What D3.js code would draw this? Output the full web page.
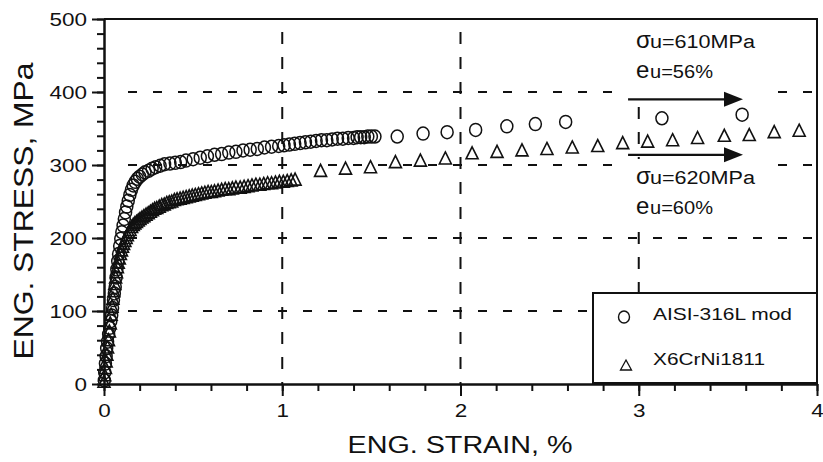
<!DOCTYPE html>
<html>
<head>
<meta charset="utf-8">
<script src="https://cdn.jsdelivr.net/npm/d3@7"></script>
<style>
  body { margin: 0; background: #fff; }
  svg { display: block; font-family: "Liberation Sans", Arial, Helvetica, sans-serif; }
</style>
</head>
<body>
<div id="chart"></div>
<script>
// AISI-316L mod (circles): [strain %, stress MPa]
const aisiPoints = [
  [0.002, 5], [0.004, 16], [0.008, 28], [0.012, 38], [0.015, 49], [0.020, 58], [0.026, 68],
  [0.032, 77], [0.038, 86], [0.043, 94], [0.048, 104], [0.053, 115], [0.058, 124], [0.063, 133],
  [0.068, 146], [0.072, 157], [0.077, 168], [0.082, 178], [0.088, 189], [0.094, 199], [0.100, 208],
  [0.107, 217], [0.114, 226], [0.121, 235], [0.128, 243], [0.136, 251], [0.145, 259], [0.154, 266],
  [0.164, 272], [0.175, 277], [0.187, 281], [0.200, 284], [0.215, 287], [0.230, 290], [0.250, 292],
  [0.270, 295], [0.290, 297], [0.315, 299], [0.340, 301], [0.370, 302], [0.400, 303], [0.430, 304],
  [0.460, 306], [0.500, 308], [0.540, 310], [0.580, 312], [0.620, 314], [0.660, 315], [0.700, 317],
  [0.740, 318], [0.780, 320], [0.820, 321], [0.860, 322], [0.900, 324], [0.940, 325], [0.980, 326],
  [1.010, 327], [1.040, 328], [1.070, 329], [1.100, 330], [1.130, 331], [1.160, 332], [1.190, 333],
  [1.220, 334], [1.250, 334], [1.280, 335], [1.310, 336], [1.340, 336], [1.370, 337], [1.400, 337],
  [1.420, 338], [1.440, 338], [1.460, 338], [1.480, 339], [1.500, 339], [1.520, 339],
  [1.645, 339], [1.790, 343], [1.925, 345], [2.085, 348], [2.260, 353], [2.420, 356], [2.590, 359],
  [3.130, 364], [3.580, 369]
];

// X6CrNi1811 (triangles): [strain %, stress MPa]
const x6Points = [
  [0.000, 3], [0.004, 12], [0.008, 22], [0.012, 31], [0.016, 40], [0.020, 50], [0.025, 60],
  [0.030, 72], [0.035, 83], [0.040, 95], [0.045, 106], [0.050, 117], [0.055, 127], [0.060, 137],
  [0.065, 146], [0.070, 153], [0.075, 160], [0.080, 166], [0.086, 172], [0.092, 178], [0.098, 183],
  [0.104, 188], [0.110, 192], [0.117, 196], [0.124, 200], [0.131, 204], [0.138, 208], [0.146, 211],
  [0.155, 215], [0.164, 218], [0.173, 220], [0.182, 222], [0.192, 224], [0.202, 226], [0.213, 228],
  [0.224, 230], [0.236, 232], [0.248, 234], [0.260, 236], [0.272, 238], [0.284, 240], [0.296, 241],
  [0.310, 243], [0.324, 245], [0.338, 246], [0.352, 248], [0.366, 249], [0.380, 250], [0.395, 252],
  [0.410, 253], [0.427, 254], [0.444, 255], [0.461, 256], [0.478, 257], [0.495, 258], [0.512, 259],
  [0.530, 260], [0.548, 261], [0.566, 262], [0.584, 263], [0.602, 263], [0.620, 264], [0.640, 265],
  [0.660, 266], [0.680, 267], [0.700, 267], [0.720, 268], [0.740, 269], [0.764, 269], [0.786, 270],
  [0.808, 271], [0.830, 272], [0.852, 273], [0.874, 273], [0.896, 274], [0.918, 275], [0.940, 275],
  [0.962, 276], [0.984, 277], [1.006, 277], [1.028, 278], [1.050, 279], [1.072, 280],
  [1.215, 292], [1.355, 295], [1.495, 297], [1.635, 304], [1.775, 306], [1.915, 309], [2.065, 316],
  [2.205, 318], [2.345, 320], [2.485, 322], [2.627, 324], [2.770, 326], [2.910, 330], [3.050, 332],
  [3.190, 334], [3.330, 337], [3.480, 340], [3.620, 341], [3.760, 345], [3.900, 347]
];

const xTicks = [0, 1, 2, 3, 4];
const yTicks = [0, 100, 200, 300, 400, 500];
const xGrid = [1, 2, 3];
const yGrid = [100, 200, 300, 400];
const seriesNames = ["AISI-316L mod", "X6CrNi1811"];

// arrows: [strain from, strain to, stress]
const arrows = [[2.94, 3.585, 390], [2.94, 3.585, 314]];
const notes = [
  { sym: "σ", rest: "u=610MPa", restLen: 105, stress: 460 },
  { sym: "e", rest: "u=56%", restLen: 63, stress: 419 },
  { sym: "σ", rest: "u=620MPa", restLen: 105, stress: 274 },
  { sym: "e", rest: "u=60%", restLen: 63, stress: 233 }
];

const W = 823, H = 462;
const ink = "#111";

const svg = d3.select("#chart").append("svg")
  .attr("width", W).attr("height", H)
  .attr("viewBox", `0 0 ${W} ${H}`);

const x = d3.scaleLinear().domain([0, 4]).range([104, 817]);
const y = d3.scaleLinear().domain([0, 500]).range([384, 19]);

// grid
svg.append("g").selectAll("line")
  .data(yGrid).enter().append("line")
  .attr("x1", x(0) + 20).attr("x2", x(4))
  .attr("y1", d => y(d)).attr("y2", d => y(d))
  .attr("stroke", ink).attr("stroke-width", 2)
  .attr("stroke-dasharray", "9,16").attr("stroke-dashoffset", 21);

svg.append("g").selectAll("line")
  .data(xGrid).enter().append("line")
  .attr("x1", d => x(d)).attr("x2", d => x(d))
  .attr("y1", y(500)).attr("y2", y(0))
  .attr("stroke", ink).attr("stroke-width", 2)
  .attr("stroke-dasharray", "12,13").attr("stroke-dashoffset", 12);

// white patches behind the annotation text
svg.append("rect").attr("x", 613).attr("y", 22).attr("width", 164).attr("height", 73).attr("fill", "#fff");
svg.append("rect").attr("x", 613).attr("y", 159).attr("width", 164).attr("height", 73).attr("fill", "#fff");

// data markers
const tri = "M0,-6.5L6,5.5L-6,5.5Z";

svg.append("g").selectAll("path")
  .data(x6Points).enter().append("path")
  .attr("d", tri)
  .attr("transform", d => `translate(${x(d[0])},${y(d[1])})`)
  .attr("fill", "none").attr("stroke", ink).attr("stroke-width", 1.6);

svg.append("g").selectAll("ellipse")
  .data(aisiPoints).enter().append("ellipse")
  .attr("cx", d => x(d[0])).attr("cy", d => y(d[1]))
  .attr("rx", 6).attr("ry", 6.5)
  .attr("fill", "none").attr("stroke", ink).attr("stroke-width", 1.5);

// arrows
arrows.forEach(a => {
  const g = svg.append("g");
  g.append("line")
    .attr("x1", x(a[0])).attr("x2", x(a[1]) - 14)
    .attr("y1", y(a[2])).attr("y2", y(a[2]))
    .attr("stroke", ink).attr("stroke-width", 2.2);
  g.append("path")
    .attr("d", `M${x(a[1])},${y(a[2])}L${x(a[1]) - 19},${y(a[2]) - 7.5}L${x(a[1]) - 19},${y(a[2]) + 7.5}Z`)
    .attr("fill", ink);
});

// annotation text
notes.forEach(n => {
  const t = svg.append("text").attr("y", y(n.stress)).attr("fill", ink);
  t.append("tspan").attr("x", 636).attr("font-size", 24).text(n.sym);
  t.append("tspan").attr("x", 650).attr("font-size", 18)
    .attr("textLength", n.restLen).attr("lengthAdjust", "spacingAndGlyphs").text(n.rest);
});

// legend
const lg = svg.append("g");
lg.append("rect").attr("x", 593).attr("y", 293).attr("width", 224).attr("height", 90)
  .attr("fill", "#fff").attr("stroke", ink).attr("stroke-width", 2);
lg.append("ellipse").attr("cx", 624).attr("cy", 317).attr("rx", 5.5).attr("ry", 6)
  .attr("fill", "none").attr("stroke", ink).attr("stroke-width", 1.4);
lg.append("path").attr("d", "M626,360L631.5,370L620.5,370Z")
  .attr("fill", "none").attr("stroke", ink).attr("stroke-width", 1.3);
lg.append("text").attr("x", 653).attr("y", 320).attr("font-size", 17).attr("fill", ink)
  .attr("textLength", 139).attr("lengthAdjust", "spacingAndGlyphs").text(seriesNames[0]);
lg.append("text").attr("x", 653).attr("y", 365).attr("font-size", 17).attr("fill", ink)
  .attr("textLength", 112).attr("lengthAdjust", "spacingAndGlyphs").text(seriesNames[1]);

// frame top and right
svg.append("path")
  .attr("d", `M${x(0)},${y(500)}H${x(4)}V${y(0)}`)
  .attr("fill", "none").attr("stroke", ink).attr("stroke-width", 2);

// axes
function styleAxis(g) {
  g.select(".domain").attr("stroke", ink).attr("stroke-width", 2);
  g.selectAll(".tick line").attr("stroke", ink).attr("stroke-width", 2);
  g.selectAll(".tick text").attr("fill", ink).style("font-size", "19px")
    .attr("textLength", d => String(d).length * 12.5).attr("lengthAdjust", "spacingAndGlyphs");
}

svg.append("g")
  .attr("transform", `translate(0,${y(0)})`)
  .call(d3.axisBottom(x).tickValues(d3.range(0, 4.01, 0.2)).tickSize(7).tickSizeOuter(0).tickFormat(""))
  .call(styleAxis);
svg.append("g")
  .attr("transform", `translate(0,${y(0)})`)
  .call(d3.axisBottom(x).tickValues(xTicks).tickSize(12).tickSizeOuter(0).tickPadding(8).tickFormat(d3.format("d")))
  .call(styleAxis);

svg.append("g")
  .attr("transform", `translate(${x(0)},0)`)
  .call(d3.axisLeft(y).tickValues(d3.range(0, 501, 20)).tickSize(7).tickSizeOuter(0).tickFormat(""))
  .call(styleAxis);
svg.append("g")
  .attr("transform", `translate(${x(0)},0)`)
  .call(d3.axisLeft(y).tickValues(yTicks).tickSize(12).tickSizeOuter(0).tickPadding(5).tickFormat(d3.format("d")))
  .call(styleAxis);

svg.selectAll(".tick text").style("font-family", "'Liberation Sans', Arial, sans-serif");

// axis titles
svg.append("text")
  .attr("x", 460).attr("y", 453)
  .attr("text-anchor", "middle").attr("font-size", 23).attr("fill", ink)
  .attr("textLength", 225).attr("lengthAdjust", "spacingAndGlyphs")
  .text("ENG. STRAIN, %");

svg.append("text")
  .attr("transform", "translate(33,211) rotate(-90)")
  .attr("text-anchor", "middle").attr("font-size", 27).attr("fill", ink)
  .attr("textLength", 297).attr("lengthAdjust", "spacingAndGlyphs")
  .text("ENG. STRESS, MPa");
</script>
</body>
</html>
